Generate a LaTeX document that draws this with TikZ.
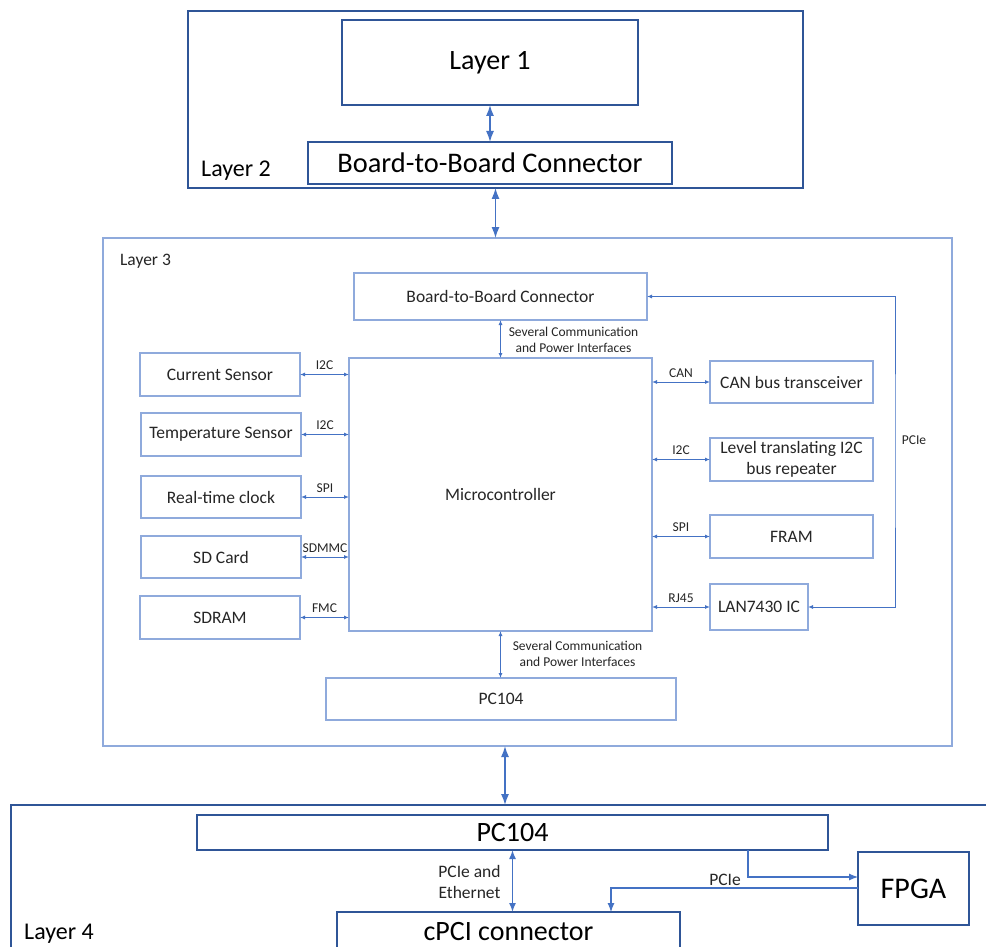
\documentclass[tikz,border=0pt]{standalone}
\usepackage{fontspec}
\setmainfont{Carlito}
\usetikzlibrary{arrows.meta,calc}
\definecolor{dblue}{HTML}{2F5597}
\definecolor{lblue}{HTML}{8FAADC}
\definecolor{ablue}{HTML}{4472C4}
\begin{document}
\begin{tikzpicture}[x=1pt,y=-1pt,
  box/.style={draw, inner sep=0pt, outer sep=0pt, align=center, text=black},
  bigbox/.style={box, draw=dblue, line width=1.1pt, font=\fontsize{28}{32}\selectfont},
  midbox/.style={box, draw=lblue, line width=1.1pt, font=\fontsize{17.5}{21}\selectfont, text=black!85},
  layerbox/.style={draw, inner sep=0pt, outer sep=0pt, line width=1.1pt},
  layerlbl/.style={inner sep=0pt, font=\fontsize{24}{28}\selectfont, text=black},
  bigarr/.style={draw=ablue, line width=1.4pt, {Latex[length=11pt,width=8pt]}-{Latex[length=11pt,width=8pt]}},
  onearr/.style={draw=ablue, line width=1.1pt, -{Latex[length=9pt,width=7pt]}},
  smallarr/.style={draw=ablue, line width=1pt, {Latex[length=5pt,width=4pt]}-{Latex[length=5pt,width=4pt]}},
  lbl/.style={font=\fontsize{13.5}{16.7}\selectfont, text=black!85, inner sep=0pt, align=center},
  midlbl/.style={font=\fontsize{17.5}{21}\selectfont, text=black!85, inner sep=0pt, align=center}
]
\clip (0,0) rectangle (986,947);
\fill[white] (0,0) rectangle (986,947);

% ---------- Layer 2 ----------
\node[layerbox, draw=dblue, minimum width=615pt, minimum height=177pt] (L2) at (495.5,99.5) {};
\node[bigbox, minimum width=296pt, minimum height=85pt] (L1) at (490,62.5) {Layer 1};
\node[bigbox, font=\fontsize{28.4}{32}\selectfont, minimum width=364pt, minimum height=42pt] (b2b2) at (490,163) {Board-to-Board Connector};
\node[layerlbl] (L2lbl) at (236,171) {Layer 2};
\draw[bigarr] (L1.south) -- (b2b2.north);

% ---------- Layer 3 ----------
\node[layerbox, draw=lblue, minimum width=849pt, minimum height=508pt] (L3) at (527.5,492) {};
\node[midlbl] (L3lbl) at (145.5,261) {Layer 3};
\draw[bigarr] (L2.south) -- (L2.south |- L3.north);

\node[midbox, minimum width=293pt, minimum height=47pt] (b2b3) at (500.5,296.5) {Board-to-Board Connector};
\node[midbox, minimum width=303pt, minimum height=273pt] (mc) at (500.5,494.5) {Microcontroller};
\node[midbox, minimum width=350pt, minimum height=42pt] (pc3) at (501,699) {PC104};

\node[midbox, minimum width=160pt, minimum height=43pt] (cs) at (220,374.5) {Current Sensor};
\node[midbox, minimum width=160pt, minimum height=43pt] (ts) at (221,434.5) {Temperature Sensor};
\node[midbox, minimum width=160pt, minimum height=42pt] (rtc) at (221,497) {Real-time clock};
\node[midbox, minimum width=160pt, minimum height=42pt] (sd) at (221,557) {SD Card};
\node[midbox, minimum width=160pt, minimum height=43pt] (sdram) at (220,617.5) {SDRAM};

\node[midbox, minimum width=163pt, minimum height=42pt] (can) at (791.5,382) {CAN bus transceiver};
\node[midbox, minimum width=163pt, minimum height=43pt] (lvl) at (791.5,459.5) {Level translating I2C\\bus repeater};
\node[midbox, minimum width=163pt, minimum height=43pt] (fram) at (791.5,536.5) {FRAM};
\node[midbox, minimum width=98pt, minimum height=46pt] (lan) at (759,607) {LAN7430 IC};

\draw[smallarr] (cs.east) -- node[lbl, above=4pt]{I2C} (cs.east -| mc.west);
\draw[smallarr] (ts.east) -- node[lbl, above=4pt]{I2C} (ts.east -| mc.west);
\draw[smallarr] (rtc.east) -- node[lbl, above=4pt]{SPI} (rtc.east -| mc.west);
\draw[smallarr] (sd.east) -- node[lbl, above=4pt]{SDMMC} (sd.east -| mc.west);
\draw[smallarr] (sdram.east) -- node[lbl, above=4pt]{FMC} (sdram.east -| mc.west);

\draw[smallarr] (mc.east |- can.west) -- node[lbl, above=4pt]{CAN} (can.west);
\draw[smallarr] (mc.east |- lvl.west) -- node[lbl, above=4pt]{I2C} (lvl.west);
\draw[smallarr] (mc.east |- fram.west) -- node[lbl, above=4pt]{SPI} (fram.west);
\draw[smallarr] (mc.east |- lan.west) -- node[lbl, above=4pt]{RJ45} (lan.west);

\draw[smallarr] (mc.north) -- (mc.north |- b2b3.south);
\node[lbl] (sc1) at (573.5,340) {Several Communication\\and Power Interfaces};
\draw[smallarr] (mc.south) -- (mc.south |- pc3.north);
\node[lbl] (sc2) at (577.5,654) {Several Communication\\and Power Interfaces};

\coordinate (pcx) at (895,450);
\draw[smallarr] (lan.east) -| (pcx) |- (b2b3.east);
\node[lbl] (pcielbl) at (914,440) {PCIe};

% ---------- Layer 4 ----------
\node[layerbox, draw=dblue, minimum width=989pt, minimum height=165pt] (L4) at (505.5,887.5) {};
\node[layerlbl] (L4lbl) at (59,934) {Layer 4};
\coordinate (a34) at (505,746);
\draw[bigarr] (a34) -- (a34 |- L4.north);

\node[bigbox, minimum width=631pt, minimum height=35pt] (pc4) at (512.5,832.5) {PC104};
\node[bigbox, font=\fontsize{30}{34}\selectfont, minimum width=111pt, minimum height=73pt] (fpga) at (913.5,888.5) {FPGA};
\node[bigbox, minimum width=343pt, minimum height=40pt] (cpci) at (508.5,932) {cPCI connector};

\draw[draw=ablue, line width=1.4pt, {Latex[length=9pt,width=7pt]}-{Latex[length=9pt,width=7pt]}] (pc4.south) -- (pc4.south |- cpci.north);
\node[midlbl] (pe) at (469.5,882) {PCIe and\\Ethernet};

\draw[onearr] ($(pc4.south east)+(-80,0)$) |- ($(fpga.north west)+(0,25)$);
\draw[onearr] ($(fpga.north west)+(0,36)$) -| ($(cpci.north west)+(274,0)$);
\node[midlbl] (pcie4) at (725,880) {PCIe};
\end{tikzpicture}
\end{document}
